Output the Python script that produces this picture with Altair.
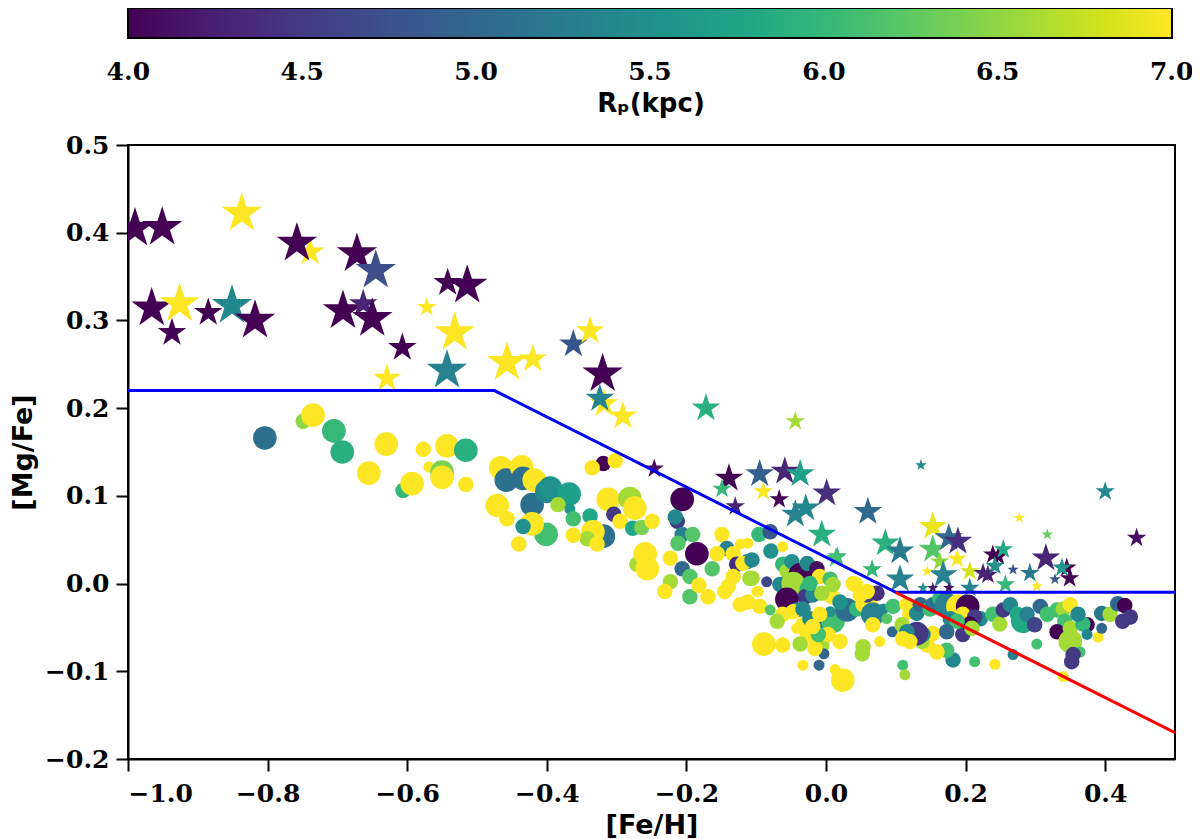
import altair as alt
import pandas as pd

# dwarfs (circles): [Fe/H], [Mg/Fe], R_p in kpc, size class
circ_feh = [
    -0.804, -0.749, -0.735, -0.705, -0.693, -0.655, -0.630, -0.606, -0.593, -0.577,
    -0.569, -0.550, -0.550, -0.543, -0.516, -0.516, -0.466, -0.458, -0.436, -0.434,
    -0.418, -0.471, -0.457, -0.421, -0.400, -0.395, -0.368, -0.384, -0.367, -0.362,
    -0.338, -0.312, -0.304, -0.281, -0.274, -0.295, -0.319, -0.334, -0.342, -0.328,
    -0.362, -0.401, -0.421, -0.434, -0.440, -0.277, -0.264, -0.271, -0.259, -0.319,
    -0.335, -0.302, -0.249, -0.206, -0.213, -0.216, -0.206, -0.191, -0.212, -0.185,
    -0.256, -0.223, -0.206, -0.195, -0.223, -0.231, -0.195, -0.182, -0.169, -0.163,
    -0.149, -0.142, -0.133, -0.123, -0.112, -0.156, -0.128, -0.113, -0.119, -0.133,
    -0.140, -0.145, -0.109, -0.097, -0.085, -0.123, -0.112, -0.095, -0.080, -0.096,
    -0.079, -0.062, -0.080, -0.062, -0.056, -0.049, -0.037, -0.027, -0.013, -0.009,
    -0.066, -0.047, -0.027, -0.030, -0.056, -0.019, 0.006, 0.009, 0.010, -0.042,
    -0.062, -0.070, -0.033, -0.042, -0.027, -0.019, -0.009, 0.010, 0.006, 0.030,
    0.020, 0.044, 0.053, 0.063, 0.059, 0.073, 0.067, 0.039, 0.049, 0.082,
    0.087, 0.067, 0.020, -0.006, 0.053, 0.052, 0.077, 0.095, -0.003, -0.089,
    -0.033, -0.010, 0.013, 0.024, -0.106, -0.106, -0.099, -0.023, -0.006, -0.047,
    -0.033, -0.023, -0.009, 0.042, 0.059, 0.096, 0.116, 0.117, 0.109, 0.130,
    0.135, 0.149, 0.153, 0.163, 0.173, 0.189, 0.203, 0.196, 0.221, 0.213,
    0.206, 0.196, 0.209, 0.239, 0.249, 0.254, 0.264, 0.274, 0.282, 0.288,
    0.299, 0.307, 0.317, 0.331, 0.340, 0.350, 0.342, 0.331, 0.350, 0.374,
    0.368, 0.361, 0.374, 0.350, 0.364, 0.354, 0.352, 0.390, 0.395, 0.395,
    0.407, 0.418, 0.428, 0.436, 0.425, 0.340, 0.302, 0.268, 0.242, 0.213,
    0.182, 0.173, 0.159, 0.145, 0.138, 0.153, 0.139, 0.130, 0.116, 0.110,
    0.120, 0.110, 0.113, 0.178, 0.188, 0.173, -0.016, -0.037, -0.062, 0.003,
    -0.011, -0.019,
]
circ_mgfe = [
    0.166, 0.185, 0.192, 0.174, 0.150, 0.126, 0.159, 0.106, 0.114, 0.153,
    0.133, 0.127, 0.121, 0.157, 0.152, 0.113, 0.132, 0.118, 0.133, 0.120,
    0.118, 0.089, 0.074, 0.090, 0.105, 0.109, 0.102, 0.090, 0.085, 0.074,
    0.077, 0.096, 0.079, 0.097, 0.086, 0.071, 0.054, 0.059, 0.051, 0.045,
    0.055, 0.056, 0.068, 0.065, 0.045, 0.063, 0.064, 0.022, 0.034, 0.137,
    0.132, 0.140, 0.071, 0.096, 0.071, 0.076, 0.056, 0.056, 0.046, 0.034,
    0.017, 0.029, 0.017, 0.008, 0.002, -0.009, -0.015, -0.002, -0.015, 0.017,
    0.056, 0.040, 0.034, 0.045, 0.046, 0.034, 0.022, 0.025, 0.023, 0.008,
    -0.003, -0.009, 0.006, -0.009, 0.002, -0.024, -0.021, -0.026, -0.030, 0.056,
    0.037, 0.042, 0.059, 0.022, 0.014, 0.025, 0.010, 0.023, 0.017, 0.008,
    -0.001, 0.000, -0.006, -0.015, -0.018, -0.013, 0.005, -0.015, -0.001, -0.030,
    -0.035, -0.043, -0.047, -0.051, -0.058, -0.064, -0.043, -0.043, -0.032, -0.030,
    -0.021, -0.029, -0.024, -0.024, -0.013, -0.011, -0.035, 0.000, -0.013, -0.029,
    -0.040, -0.047, -0.066, -0.070, -0.072, -0.080, -0.066, -0.055, -0.080, -0.069,
    -0.093, -0.093, -0.098, -0.110, 0.027, 0.006, -0.009, 0.000, -0.011, -0.032,
    -0.029, -0.040, -0.035, -0.001, -0.009, -0.026, -0.024, -0.035, -0.047, -0.034,
    -0.024, -0.029, -0.024, -0.017, -0.024, -0.026, -0.026, -0.035, -0.040, -0.038,
    -0.046, -0.058, -0.051, -0.035, -0.046, -0.030, -0.024, -0.035, -0.043, -0.035,
    -0.047, -0.026, -0.035, -0.030, -0.029, -0.024, -0.043, -0.055, -0.051, -0.047,
    -0.046, -0.035, -0.058, -0.066, -0.078, -0.081, -0.089, -0.061, -0.051, -0.034,
    -0.035, -0.023, -0.025, -0.038, -0.043, -0.106, -0.069, -0.081, -0.092, -0.089,
    -0.087, -0.076, -0.078, -0.070, -0.066, -0.057, -0.058, -0.057, -0.055, -0.063,
    -0.066, -0.093, -0.104, -0.040, -0.043, -0.055, -0.074, -0.069, -0.070, -0.058,
    -0.058, -0.049,
]
circ_rp = [
    5.1, 6.5, 7.0, 6.0, 5.9, 7.0, 7.0, 6.0, 7.0, 7.0,
    7.0, 6.4, 7.0, 7.0, 5.9, 7.0, 7.0, 5.1, 7.0, 5.1,
    7.0, 7.0, 7.0, 5.1, 5.4, 5.5, 5.7, 6.6, 5.6, 6.1,
    5.8, 7.0, 4.5, 6.6, 7.0, 7.0, 5.1, 7.0, 6.6, 7.0,
    7.0, 6.1, 7.0, 5.5, 7.0, 5.8, 6.4, 6.6, 7.0, 4.0,
    7.0, 7.0, 7.0, 4.0, 4.5, 5.4, 5.3, 6.2, 6.2, 4.0,
    7.0, 7.0, 5.0, 6.2, 6.6, 7.0, 6.2, 7.0, 7.0, 6.2,
    7.0, 5.3, 7.0, 7.0, 7.0, 7.0, 4.4, 5.4, 7.0, 7.0,
    7.0, 7.0, 6.6, 7.0, 4.6, 7.0, 7.0, 7.0, 6.2, 6.0,
    5.5, 7.0, 4.8, 6.0, 6.6, 5.5, 4.0, 5.4, 4.1, 7.0,
    5.4, 6.6, 6.0, 4.5, 4.0, 5.4, 6.1, 7.0, 6.6, 5.4,
    7.0, 6.6, 7.0, 7.0, 7.0, 7.0, 5.0, 6.1, 5.5, 5.1,
    5.5, 6.0, 7.0, 7.0, 4.6, 4.4, 5.3, 7.0, 7.0, 5.4,
    6.2, 7.0, 7.0, 6.6, 6.6, 6.6, 7.0, 5.0, 5.0, 7.0,
    7.0, 5.0, 7.0, 7.0, 5.4, 6.6, 7.0, 6.0, 6.6, 7.0,
    5.4, 5.4, 7.0, 7.0, 7.0, 6.1, 7.0, 7.0, 6.6, 5.4,
    5.0, 6.1, 5.1, 6.0, 5.3, 7.0, 4.0, 7.0, 5.4, 4.5,
    4.0, 4.5, 6.6, 6.1, 6.6, 4.5, 5.4, 5.8, 5.8, 5.3,
    4.6, 5.0, 6.1, 6.1, 6.6, 7.0, 6.1, 4.0, 6.6, 4.0,
    6.0, 5.4, 5.4, 6.6, 6.1, 4.5, 4.5, 7.0, 5.0, 5.2,
    6.6, 5.0, 4.0, 4.5, 4.5, 7.0, 6.1, 5.3, 7.0, 6.1,
    5.4, 6.1, 7.0, 7.0, 6.6, 7.0, 5.4, 4.5, 5.4, 7.0,
    7.0, 6.1, 6.6, 5.4, 6.1, 5.0, 7.0, 6.6, 7.0, 7.0,
    6.1, 7.0,
]
circ_w = [
    3, 2, 3, 3, 3, 3, 3, 2, 3, 2,
    1, 3, 3, 3, 3, 2, 3, 3, 3, 3,
    3, 3, 2, 3, 3, 3, 3, 2, 1, 2,
    2, 3, 2, 3, 3, 2, 3, 3, 2, 2,
    2, 3, 3, 2, 2, 2, 2, 2, 3, 2,
    2, 2, 2, 3, 2, 2, 2, 2, 2, 3,
    3, 2, 2, 2, 2, 2, 2, 2, 2, 2,
    2, 2, 2, 1, 1, 2, 2, 2, 2, 2,
    2, 2, 2, 1, 1, 2, 2, 2, 1, 2,
    2, 1, 2, 2, 2, 2, 3, 2, 2, 2,
    2, 3, 2, 2, 3, 2, 2, 2, 2, 2,
    2, 2, 2, 1, 2, 1, 2, 3, 1, 3,
    2, 2, 2, 2, 2, 2, 3, 2, 2, 1,
    1, 2, 2, 2, 2, 2, 1, 1, 1, 3,
    1, 1, 1, 3, 2, 2, 1, 2, 2, 2,
    2, 2, 2, 2, 2, 2, 2, 1, 2, 2,
    2, 2, 2, 2, 3, 3, 3, 2, 2, 2,
    2, 2, 2, 2, 2, 2, 2, 2, 3, 2,
    2, 2, 2, 2, 2, 2, 2, 2, 2, 2,
    2, 2, 1, 3, 1, 2, 2, 1, 1, 2,
    2, 2, 2, 2, 2, 1, 1, 1, 1, 1,
    2, 2, 2, 2, 2, 2, 2, 3, 2, 2,
    2, 1, 1, 2, 2, 2, 2, 2, 2, 2,
    2, 2,
]

# giants (stars)
star_feh = [
    -0.990, -0.951, -0.837, -0.739, -0.758, -0.672, -0.645, -0.542, -0.514, -0.966,
    -0.926, -0.937, -0.885, -0.851, -0.818, -0.692, -0.663, -0.650, -0.607, -0.572,
    -0.532, -0.629, -0.543, -0.457, -0.420, -0.362, -0.338, -0.320, -0.318, -0.324,
    -0.291, -0.172, -0.044, -0.246, -0.139, -0.095, -0.059, -0.037, 0.001, -0.149,
    -0.090, -0.067, -0.044, -0.029, -0.130, -0.006, 0.016, 0.060, 0.136, 0.085,
    0.106, 0.066, 0.014, 0.106, 0.153, 0.153, 0.176, 0.189, 0.163, 0.188,
    0.168, 0.145, 0.206, 0.232, 0.239, 0.247, 0.254, 0.242, 0.268, 0.277,
    0.292, 0.315, 0.317, 0.345, 0.349, 0.338, 0.328, 0.302, 0.257, 0.400,
    0.445, 0.153, 0.176, 0.139, 0.206, 0.225,
]
star_mgfe = [
    0.405, 0.406, 0.422, 0.378, 0.388, 0.376, 0.357, 0.343, 0.340, 0.314,
    0.319, 0.286, 0.309, 0.317, 0.300, 0.311, 0.319, 0.302, 0.269, 0.315,
    0.286, 0.234, 0.243, 0.252, 0.256, 0.273, 0.288, 0.239, 0.205, 0.211,
    0.191, 0.200, 0.185, 0.131, 0.120, 0.125, 0.128, 0.125, 0.103, 0.108,
    0.105, 0.096, 0.079, 0.086, 0.088, 0.056, 0.031, 0.082, 0.135, 0.046,
    0.037, 0.016, 0.029, 0.005, 0.065, 0.039, 0.052, 0.048, 0.025, 0.028,
    0.010, 0.014, 0.014, 0.010, 0.033, 0.031, 0.039, 0.020, 0.016, 0.075,
    0.012, 0.029, 0.056, 0.018, 0.006, 0.018, 0.005, -0.003, -0.001, 0.105,
    0.052, -0.005, -0.005, -0.005, -0.005, 0.012,
]
star_rp = [
    4.0, 4.0, 7.0, 7.0, 4.0, 4.0, 4.7, 4.0, 4.0, 4.0,
    7.0, 4.0, 4.0, 5.4, 4.0, 4.0, 4.3, 4.0, 4.0, 7.0,
    7.0, 7.0, 5.3, 7.0, 7.0, 4.8, 7.0, 4.0, 7.0, 5.3,
    7.0, 5.9, 6.6, 4.1, 4.0, 4.9, 4.3, 5.7, 4.4, 6.0,
    7.0, 4.0, 5.3, 5.4, 4.3, 5.9, 6.0, 5.0, 5.4, 5.9,
    5.2, 6.0, 6.1, 5.3, 6.9, 6.2, 5.0, 4.4, 6.5, 7.0,
    5.3, 7.0, 6.8, 4.2, 4.0, 4.0, 5.8, 5.5, 4.8, 7.0,
    5.2, 4.3, 6.3, 4.0, 4.0, 5.6, 4.8, 7.0, 6.0, 5.4,
    4.1, 4.2, 4.1, 5.5, 5.3, 4.3,
]
star_w = [
    3, 3, 3, 2, 3, 3, 3, 2, 3, 3,
    3, 2, 2, 3, 3, 3, 2, 3, 2, 1,
    3, 2, 3, 3, 2, 2, 2, 3, 2, 2,
    2, 2, 1, 1, 2, 2, 2, 2, 2, 1,
    1, 1, 2, 2, 1, 2, 1, 2, 0, 2,
    2, 1, 1, 2, 2, 2, 2, 2, 1, 1,
    2, 0, 1, 1, 1, 1, 1, 1, 0, 0,
    1, 2, 0, 1, 1, 1, 0, 0, 1, 1,
    1, 0, 0, 0, 1, 1,
]

# dividing lines
blue_feh = [-1.0, -0.475, 0.1, 0.5]
blue_mgfe = [0.22, 0.22, -0.01, -0.01]
red_feh = [0.1, 0.5]
red_mgfe = [-0.01, -0.17]

rp_ticks = [4.0, 4.5, 5.0, 5.5, 6.0, 6.5, 7.0]
x_ticks = [-1.0, -0.8, -0.6, -0.4, -0.2, 0.0, 0.2, 0.4]
y_ticks = [-0.2, -0.1, 0.0, 0.1, 0.2, 0.3, 0.4, 0.5]

STAR = ("M0,-1L0.2245,-0.309L0.951,-0.309L0.363,0.118L0.588,0.809L0,0.382"
        "L-0.588,0.809L-0.363,0.118L-0.951,-0.309L-0.2245,-0.309Z")

circles = pd.DataFrame({"feh": circ_feh, "mgfe": circ_mgfe, "rp": circ_rp, "w": circ_w})
stars = pd.DataFrame({"feh": star_feh, "mgfe": star_mgfe, "rp": star_rp, "w": star_w})
blue = pd.DataFrame({"feh": blue_feh, "mgfe": blue_mgfe})
red = pd.DataFrame({"feh": red_feh, "mgfe": red_mgfe})

x = alt.X("feh:Q", title="[Fe/H]",
          scale=alt.Scale(domain=[-1.0, 0.5], nice=False, zero=False),
          axis=alt.Axis(values=x_ticks, format=".1f", labelPadding=10, titlePadding=6))
y = alt.Y("mgfe:Q", title="[Mg/Fe]",
          scale=alt.Scale(domain=[-0.2, 0.5], nice=False, zero=False),
          axis=alt.Axis(values=y_ticks, format=".1f", labelPadding=7, titlePadding=7))
# domain padded by a hair so the end labels of the colour bar stay centred on their ticks
color = alt.Color(
    "rp:Q",
    scale=alt.Scale(scheme="viridis", domain=[3.999, 7.001], clamp=True),
    legend=alt.Legend(
        title="Rₚ(kpc)", orient="none", direction="horizontal",
        legendX=0, legendY=-137, gradientLength=1044, gradientThickness=30,
        values=rp_ticks, format=".1f", labelOffset=22,
        titleOrient="bottom", titleAnchor="middle", titlePadding=6,
    ),
)

dots = alt.Chart(circles).mark_circle(opacity=1, clip=True).encode(
    x=x, y=y, color=color,
    size=alt.Size("w:Q", scale=alt.Scale(domain=[1, 2, 3], range=[121, 240, 560]), legend=None),
)
giants = alt.Chart(stars).mark_point(shape=STAR, filled=True, opacity=1, strokeWidth=0, clip=True).encode(
    x=x, y=y, color=color,
    size=alt.Size("w:Q", scale=alt.Scale(domain=[0, 1, 2, 3], range=[150, 420, 900, 1800]), legend=None),
)
blue_line = alt.Chart(blue).mark_line(color="#0000ff", strokeWidth=3, clip=True).encode(x=x, y=y)
red_line = alt.Chart(red).mark_line(color="#ff0000", strokeWidth=3, clip=True).encode(x=x, y=y)

chart = (
    alt.layer(dots, giants, blue_line, red_line)
    .resolve_scale(size="independent")
    .properties(
        width=1047, height=614,
        autosize=alt.AutoSizeParams(type="none"),
        padding={"left": 120, "top": 137, "right": 17, "bottom": 80},
    )
    .configure_view(stroke="black", strokeWidth=2)
    .configure_axis(
        domainColor="black", domainWidth=2, tickColor="black", tickWidth=2, tickSize=12,
        grid=False, labelFont="DejaVu Serif", labelFontWeight="bold", labelFontSize=25,
        labelColor="black", titleFont="DejaVu Sans", titleFontWeight="bold",
        titleFontSize=27, titleColor="black",
    )
    .configure_legend(
        labelFont="DejaVu Serif", labelFontWeight="bold", labelFontSize=25, labelColor="black",
        titleFont="DejaVu Sans", titleFontWeight="bold", titleFontSize=26, titleColor="black",
        gradientStrokeColor="black", gradientStrokeWidth=2, padding=0,
        gradientHorizontalMaxLength=1100,
    )
)

chart.save("out.html", embed_options={"renderer": "svg", "actions": False})
